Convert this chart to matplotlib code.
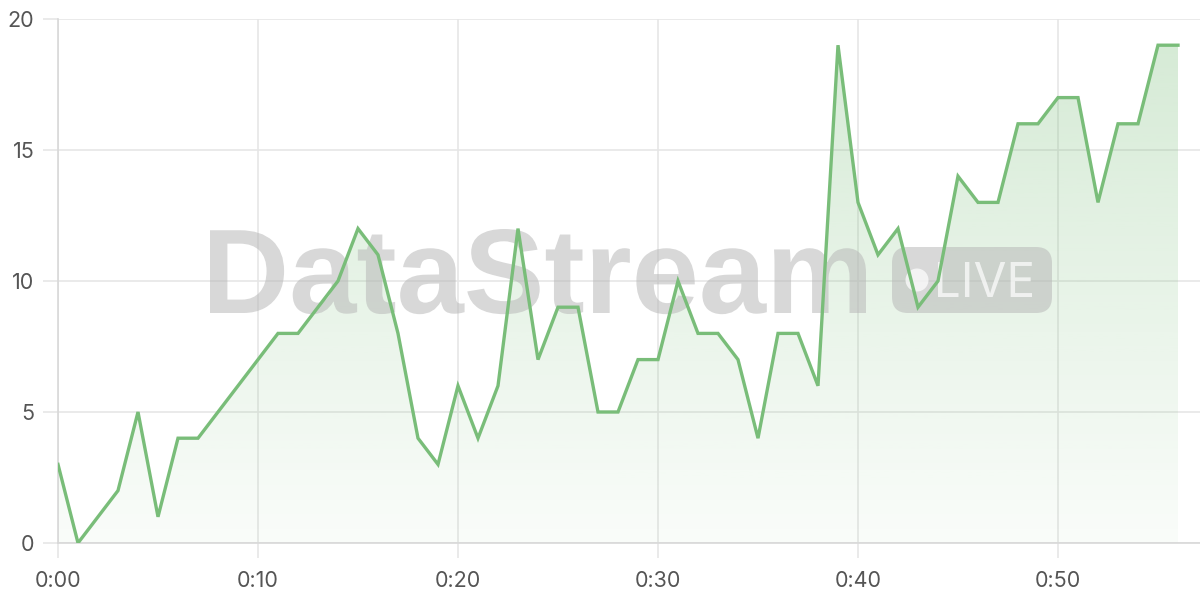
import numpy as np
from matplotlib import pyplot as plt
from matplotlib.patches import FancyBboxPatch, Circle, PathPatch
from matplotlib.textpath import TextPath
from matplotlib.font_manager import FontProperties
from matplotlib.transforms import Affine2D, IdentityTransform

minutes = list(range(57))
values = [3, 0, 1, 2, 5, 1, 4, 4, 5, 6, 7, 8, 8, 9, 10, 12, 11, 8, 4, 3,
          6, 4, 6, 12, 7, 9, 9, 5, 5, 7, 7, 10, 8, 8, 7, 4, 8, 8, 6, 19,
          13, 11, 12, 9, 10, 14, 13, 13, 16, 16, 17, 17, 13, 16, 16, 19, 19]
xticks = [0, 10, 20, 30, 40, 50]
xtick_labels = ["0:00", "0:10", "0:20", "0:30", "0:40", "0:50"]
yticks = [0, 5, 10, 15, 20]

line_color = "#79bd79"
grid_color = "#e6e6e6"
text_color = "#555555"

plt.rcParams['font.family'] = ['Inter', 'DejaVu Sans']

W, H = 1200, 600
fig = plt.figure(figsize=(12, 6), dpi=100)
ax = fig.add_axes([58/W, 57/H, 1142/W, 524/H])
ax.set_xlim(0, 57.1)
ax.set_ylim(0, 20)

x = np.array(minutes)
y = np.array(values)

# gradient fill under the line
fill = ax.fill_between(x, y, 0, color="none", zorder=2)
rgba = np.zeros((256, 1, 4))
rgba[:, 0, 0] = 0x79/255
rgba[:, 0, 1] = 0xbd/255
rgba[:, 0, 2] = 0x79/255
rgba[:, 0, 3] = np.linspace(0.04, 0.32, 256)
img = ax.imshow(rgba, extent=[0, 56, 0, 20], origin="lower", aspect="auto", zorder=2)
img.set_clip_path(fill.get_paths()[0], transform=ax.transData)

ax.plot(x, y, color=line_color, lw=2.4, zorder=5, solid_joinstyle="miter")

# watermark (pixel coords), between fill and line
px = IdentityTransform()
tp = TextPath((0, 0), "DataStream", size=100,
              prop=FontProperties(family="Liberation Sans", weight="bold"))
ext = tp.get_extents()
x0, x1, ytop, ybase = 210, 866, 229, 313
tr = (Affine2D().translate(-ext.x0, 0)
      .scale((x1 - x0) / ext.width, (ybase - ytop) / ext.y1)
      .translate(x0, H - ybase))
wm = PathPatch(tr.transform_path(tp), transform=px, facecolor="#b8b8b8",
               edgecolor="none", alpha=0.55, zorder=4, clip_on=False)
ax.add_artist(wm)

badge = FancyBboxPatch((892, H - 313), 160, 66,
                       boxstyle="round,pad=0,rounding_size=16",
                       transform=px, facecolor="#b8b8b8",
                       alpha=0.55, edgecolor="none", zorder=4, clip_on=False)
ax.add_artist(badge)
lp = TextPath((0, 0), "LIVE", size=100, prop=FontProperties(family="Inter"))
lext = lp.get_extents()
ltr = (Affine2D().translate(-lext.x0, 0)
       .scale((1032 - 938) / lext.width, (297 - 262) / lext.y1)
       .translate(938, H - 297))
live = PathPatch(ltr.transform_path(lp), transform=px, facecolor="white",
                 edgecolor="none", alpha=0.7, zorder=4.1, clip_on=False)
ax.add_artist(live)
dot = Circle((917, H - 280), 11.5, transform=px, facecolor="white",
             alpha=0.7, edgecolor="none", zorder=4.1, clip_on=False)
ax.add_artist(dot)

ax.set_xticks(xticks)
ax.set_xticklabels(xtick_labels)
ax.set_yticks(yticks)
ax.grid(True, color=grid_color, lw=1.2, zorder=0)
ax.set_axisbelow(True)
for s in ["top", "right"]:
    ax.spines[s].set_visible(False)
ax.spines["left"].set_color("#d8d8d8")
ax.spines["bottom"].set_color("#d8d8d8")
ax.spines["left"].set_linewidth(1.2)
ax.spines["bottom"].set_linewidth(1.2)
ax.tick_params(axis="both", colors=grid_color, length=11, width=1.2,
               labelcolor=text_color, labelsize=15.5)
ax.tick_params(axis="x", pad=9)
ax.tick_params(axis="y", pad=6)

fig.savefig("out.png", dpi=100)
